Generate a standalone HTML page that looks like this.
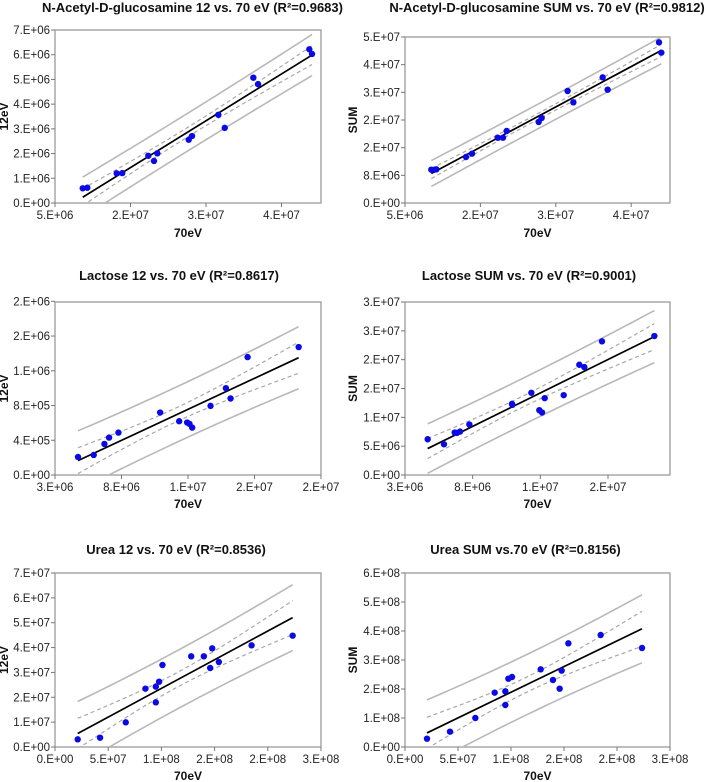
<!DOCTYPE html>
<html><head><meta charset="utf-8">
<style>
html,body{margin:0;padding:0;background:#fff;}
svg{display:block;font-family:"Liberation Sans",Arial,sans-serif;}
</style></head>
<body>
<svg id="fig" width="706" height="782" viewBox="0 0 706 782"></svg>
<script>
// ---------- data (x, y in units of one axis tick) ----------
const p1Title = "N-Acetyl-D-glucosamine  12 vs. 70 eV (R²=0.9683)";
const p1XTicks = ["5.E+06","2.E+07","3.E+07","4.E+07"];
const p1YTicks = ["0.E+00","1.E+06","2.E+06","3.E+06","4.E+06","5.E+06","6.E+06","7.E+06"];
const p1X = [1.367,1.428,1.817,1.891,2.236,2.311,2.355,2.771,2.815,3.163,3.248,3.627,3.689,4.368,4.404];
const p1Y = [0.595,0.619,1.20,1.21,1.91,1.70,2.01,2.56,2.71,3.57,3.04,5.07,4.81,6.22,6.03];

const p2Title = "N-Acetyl-D-glucosamine SUM vs. 70 eV (R²=0.9812)";
const p2XTicks = ["5.E+06","2.E+07","3.E+07","4.E+07"];
const p2YTicks = ["0.E+00","8.E+06","2.E+07","2.E+07","3.E+07","4.E+07","5.E+07"];
const p2X = [1.349,1.393,1.416,1.809,1.889,2.229,2.300,2.348,2.773,2.813,3.157,3.233,3.622,3.688,4.369,4.400];
const p2Y = [1.205,1.205,1.217,1.663,1.783,2.361,2.361,2.602,2.928,3.072,4.048,3.639,4.542,4.096,5.807,5.434];

const p3Title = "Lactose 12 vs. 70 eV (R²=0.8617)";
const p3XTicks = ["3.E+06","8.E+06","1.E+07","2.E+07","2.E+07"];
const p3YTicks = ["0.E+00","4.E+05","8.E+05","1.E+06","2.E+06","2.E+06"];
const p3X = [0.346,0.582,0.743,0.813,0.954,1.581,1.867,1.987,2.023,2.063,2.339,2.570,2.640,2.896,3.664];
const p3Y = [0.519,0.577,0.894,1.077,1.221,1.798,1.548,1.510,1.471,1.365,1.990,2.500,2.202,3.394,3.683];

const p4Title = "Lactose SUM vs. 70 eV (R²=0.9001)";
const p4XTicks = ["3.E+06","8.E+06","1.E+07","2.E+07"];
const p4YTicks = ["0.E+00","5.E+06","1.E+07","2.E+07","2.E+07","3.E+07","3.E+07"];
const p4X = [0.335,0.576,0.734,0.768,0.813,0.951,1.581,1.586,1.867,1.985,2.025,2.064,2.345,2.576,2.650,2.911,3.685];
const p4Y = [1.240,1.066,1.472,1.460,1.506,1.750,2.468,2.433,2.851,2.248,2.167,2.665,2.769,3.824,3.743,4.635,4.820];

const p5Title = "Urea 12 vs. 70 eV (R²=0.8536)";
const p5XTicks = ["0.E+00","5.E+07","1.E+08","2.E+08","2.E+08","3.E+08"];
const p5YTicks = ["0.E+00","1.E+07","2.E+07","3.E+07","4.E+07","5.E+07","6.E+07","7.E+07"];
const p5X = [0.427,0.847,1.330,1.700,1.895,1.895,1.957,2.020,2.560,2.798,2.955,2.917,3.080,3.695,4.467];
const p5Y = [0.308,0.375,0.992,2.347,2.427,1.797,2.628,3.299,3.648,3.648,3.969,3.178,3.420,4.090,4.479];

const p6Title = "Urea SUM vs.70 eV (R²=0.8156)";
const p6XTicks = ["0.E+00","5.E+07","1.E+08","2.E+08","2.E+08","3.E+08"];
const p6YTicks = ["0.E+00","1.E+08","2.E+08","3.E+08","4.E+08","5.E+08","6.E+08"];
const p6X = [0.415,0.849,1.327,1.692,1.893,1.893,1.950,2.019,2.560,2.792,2.918,2.956,3.082,3.692,4.472];
const p6Y = [0.287,0.529,1.000,1.874,1.920,1.448,2.356,2.414,2.678,2.310,2.011,2.632,3.575,3.862,3.414];

// ---------- layout ----------
const panels = [
 {id:"p1",title:p1Title,xt:p1XTicks,yt:p1YTicks,x:p1X,y:p1Y,box:[55,30,321,203],xd:[1,4.523],yd:[0,7],xticks0:1,ylab:"12eV",ylx:8,titleX:192.5,titleY:12,xlabY:237},
 {id:"p2",title:p2Title,xt:p2XTicks,yt:p2YTicks,x:p2X,y:p2Y,box:[405,37,670,203],xd:[1,4.515],yd:[0,6],xticks0:1,ylab:"SUM",ylx:357,titleX:547,titleY:12,xlabY:237},
 {id:"p3",title:p3Title,xt:p3XTicks,yt:p3YTicks,x:p3X,y:p3Y,box:[55,302,321,475],xd:[0,4],yd:[0,4.98],xticks0:0,ylab:"12eV",ylx:8,titleX:179,titleY:280,xlabY:508},
 {id:"p4",title:p4Title,xt:p4XTicks,yt:p4YTicks,x:p4X,y:p4Y,box:[405,302,670,475],xd:[0,3.916],yd:[0,6],xticks0:0,ylab:"SUM",ylx:357,titleX:529,titleY:280,xlabY:508},
 {id:"p5",title:p5Title,xt:p5XTicks,yt:p5YTicks,x:p5X,y:p5Y,box:[55,573,321,747],xd:[0,5],yd:[0,7],xticks0:0,ylab:"12eV",ylx:8,titleX:176,titleY:554,xlabY:780},
 {id:"p6",title:p6Title,xt:p6XTicks,yt:p6YTicks,x:p6X,y:p6Y,box:[405,573,670,747],xd:[0,5],yd:[0,6],xticks0:0,ylab:"SUM",ylx:357,titleX:525.5,titleY:554,xlabY:780}
];
const NS="http://www.w3.org/2000/svg";
const svg=document.getElementById("fig");
function mk(tag,attrs,parent){const e=document.createElementNS(NS,tag);for(const k in attrs)e.setAttribute(k,attrs[k]);(parent||svg).appendChild(e);return e;}
const defs=mk("defs",{});

panels.forEach((P,pi)=>{
  const [L,T,R,B]=P.box;
  const sx=v=>L+(v-P.xd[0])/(P.xd[1]-P.xd[0])*(R-L);
  const sy=v=>B-(v-P.yd[0])/(P.yd[1]-P.yd[0])*(B-T);
  const g=mk("g",{});
  
  
  const cp=mk("clipPath",{id:"clip"+pi},defs);
  mk("rect",{x:L,y:T,width:R-L,height:B-T},cp);

  const t=mk("text",{x:P.titleX,y:P.titleY,"text-anchor":"middle","font-size":"13","font-weight":"bold",fill:"#111"},g);
  t.textContent=P.title;
  
  

  const box=mk("rect",{x:L,y:T,width:R-L,height:B-T,fill:"none",stroke:"#9a9a9a","stroke-width":"1.3"},g);
  
  

  P.yt.forEach((lab,i)=>{
    const yy=sy(i);
    mk("line",{x1:L-4,x2:L,y1:yy,y2:yy,stroke:"#777"},g);
    const tx=mk("text",{x:L-5,y:yy+4,"text-anchor":"end","font-size":"11.5",fill:"#222"},g);
    tx.textContent=lab;
    
    
  });
  P.xt.forEach((lab,i)=>{
    const xx=sx(P.xticks0+i);
    mk("line",{x1:xx,x2:xx,y1:B,y2:B+4,stroke:"#777"},g);
    const tx=mk("text",{x:xx,y:B+16,"text-anchor":"middle","font-size":"11.5",fill:"#222"},g);
    tx.textContent=lab;
    
    
  });
  const xl=mk("text",{x:(L+R)/2,y:P.xlabY,"text-anchor":"middle","font-size":"12","font-weight":"bold",fill:"#111"},g);
  xl.textContent="70eV";
  
  
  const yl=mk("text",{x:0,y:0,"text-anchor":"middle","font-size":"12","font-weight":"bold",fill:"#111",transform:`translate(${P.ylx},${(T+B)/2}) rotate(-90)`},g);
  yl.textContent=P.ylab;
  
  

  const n=P.x.length;
  const mx=P.x.reduce((a,b)=>a+b,0)/n, my=P.y.reduce((a,b)=>a+b,0)/n;
  let sxx=0,sxy=0;for(let i=0;i<n;i++){sxx+=(P.x[i]-mx)**2;sxy+=(P.x[i]-mx)*(P.y[i]-my);}
  const b=sxy/sxx,a=my-b*mx;
  let sse=0;for(let i=0;i<n;i++){sse+=(P.y[i]-a-b*P.x[i])**2;}
  const s=Math.sqrt(sse/(n-2)),tv=2.16;
  const x0=Math.min(...P.x),x1=Math.max(...P.x);
  const cg=mk("g",{"clip-path":`url(#clip${pi})`},g);
  function band(sign,pred,dash,name){
    let d="";const N=40;
    for(let k=0;k<=N;k++){const xv=x0+(x1-x0)*k/N;
      const se=s*Math.sqrt((pred?1:0)+1/n+(xv-mx)**2/sxx);
      const yv=a+b*xv+sign*tv*se;
      d+=(k?"L":"M")+sx(xv).toFixed(2)+","+sy(yv).toFixed(2);}
    const p=mk("path",{d:d,fill:"none",stroke:pred?"#b8b8b8":"#a8a8a8","stroke-width":pred?"1.6":"1.2","stroke-dasharray":dash},cg);
    
    
  }
  band(1,true,"","prediction-upper");
  band(-1,true,"","prediction-lower");
  band(1,false,"4,3","confidence-upper");
  band(-1,false,"4,3","confidence-lower");
  const rl=mk("line",{x1:sx(x0),y1:sy(a+b*x0),x2:sx(x1),y2:sy(a+b*x1),stroke:"#000","stroke-width":"1.7"},cg);
  
  
  for(let i=0;i<n;i++){
    const c=mk("circle",{cx:sx(P.x[i]),cy:sy(P.y[i]),r:3.2,fill:"#0a0ae6"},g);
    
    
  }
});
</script>
</body></html>
